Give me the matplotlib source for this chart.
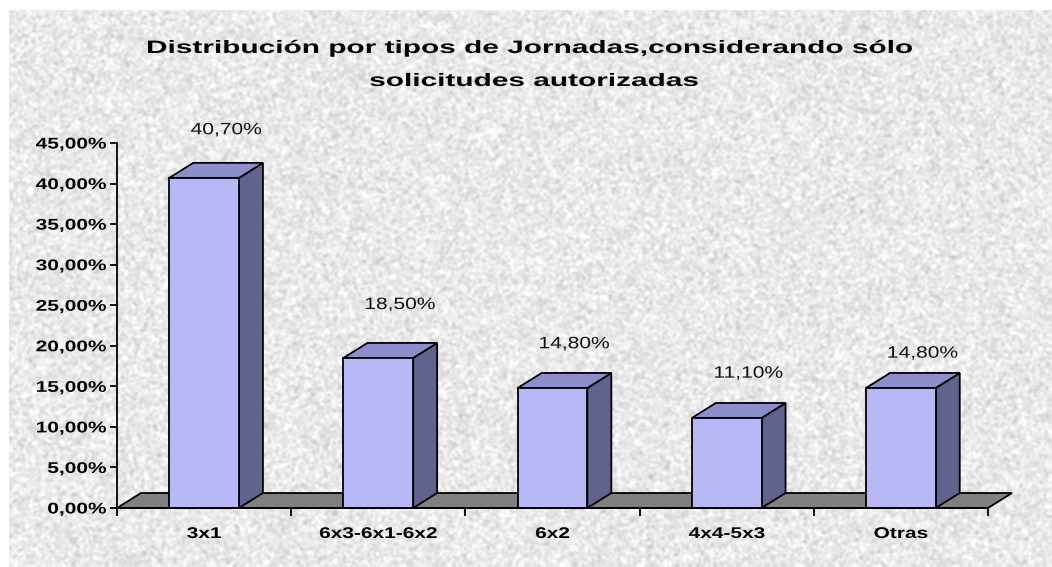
import numpy as np
import matplotlib
matplotlib.use("Agg")
import matplotlib.pyplot as plt
from matplotlib.patches import Polygon, Rectangle, PathPatch
from matplotlib.textpath import TextPath
from matplotlib.font_manager import FontProperties
from matplotlib.transforms import Affine2D, IdentityTransform

categories = ["3x1", "6x3-6x1-6x2", "6x2", "4x4-5x3", "Otras"]
values = [40.70, 18.50, 14.80, 11.10, 14.80]
value_labels = ["40,70%", "18,50%", "14,80%", "11,10%", "14,80%"]
yticks = [0, 5, 10, 15, 20, 25, 30, 35, 40, 45]
ytick_labels = ["0,00%", "5,00%", "10,00%", "15,00%", "20,00%", "25,00%",
                "30,00%", "35,00%", "40,00%", "45,00%"]
title_lines = ["Distribución por tipos de Jornadas,considerando sólo",
               "solicitudes autorizadas"]

# label placement (pixels above the front top edge of each bar)
label_rise_px = [43.6, 48.9, 39.7, 40.3, 30.3]

W, H = 1052, 567
fig = plt.figure(figsize=(W / 100, H / 100), dpi=100)
fig.patch.set_facecolor("white")

# textured background (decoration only)
rng = np.random.default_rng(3)
tex = rng.normal(0, 1, (H, W))
k = np.ones(3) / 3
for _ in range(2):
    tex = np.apply_along_axis(lambda r: np.convolve(r, k, mode="same"), 1, tex)
    tex = np.apply_along_axis(lambda c: np.convolve(c, k, mode="same"), 0, tex)
tex = tex / tex.std()
tex = np.clip(233 + 9 * tex, 195, 255) / 255.0
bg = fig.add_axes([9 / W, 0, 1 - 9 / W, 1 - 10 / H])
bg.imshow(tex, cmap="gray", vmin=0, vmax=1, aspect="auto", interpolation="bilinear")
bg.axis("off")

# plot axes (pixel frame of the reference)
x0, x1 = 117, 988
y0, y1 = 508, 143
ax = fig.add_axes([x0 / W, (H - y0) / H, (x1 - x0) / W, (y0 - y1) / H])
ax.patch.set_alpha(0)
ax.set_xlim(-0.5, 4.5)
ax.set_ylim(0, 45)
px_per_unit_y = (y0 - y1) / 45
px_per_cat = (x1 - x0) / 5

dx = 24 / px_per_cat
dy = 15 / px_per_unit_y
half = 0.2
lw = 1.3

front_c = "#b8b8f6"
top_c = "#8e8ecc"
side_c = "#62628f"
floor_c = "#808080"

floor = Polygon([(-0.5, 0), (4.5, 0), (4.5 + dx, dy), (-0.5 + dx, dy)],
                closed=True, facecolor=floor_c, edgecolor="black", lw=lw,
                clip_on=False, zorder=1)
ax.add_patch(floor)

for i, v in enumerate(values):
    l, r = i - half, i + half
    side = Polygon([(r, 0), (r + dx, dy), (r + dx, v + dy), (r, v)], closed=True,
                   facecolor=side_c, edgecolor="black", lw=lw, clip_on=False, zorder=3)
    top = Polygon([(l, v), (l + dx, v + dy), (r + dx, v + dy), (r, v)], closed=True,
                  facecolor=top_c, edgecolor="black", lw=lw, clip_on=False, zorder=3)
    front = Rectangle((l, 0), 2 * half, v, facecolor=front_c, edgecolor="black",
                      lw=lw, clip_on=False, zorder=4)
    ax.add_patch(side)
    ax.add_patch(top)
    ax.add_patch(front)

for s in ["top", "right"]:
    ax.spines[s].set_visible(False)
for s in ["left", "bottom"]:
    ax.spines[s].set_linewidth(1.3)
    ax.spines[s].set_zorder(6)

ax.set_yticks(yticks)
ax.set_yticklabels([])
ax.set_xticks(np.arange(-0.5, 5.0, 1.0))
ax.set_xticklabels([])
ax.tick_params(axis="x", which="major", direction="out", length=6, width=1.3)
ax.tick_params(axis="y", direction="out", length=5, width=1.3)

# --- horizontally stretched text (the reference text is widened) ---
bold = FontProperties(family="Liberation Sans", weight="bold")
regular = FontProperties(family="Liberation Sans")


def text_path(s, em, prop):
    return TextPath((0, 0), s, size=em, prop=prop)


def ink_width(s, em, prop):
    e = text_path(s, em, prop).get_extents()
    return e.x1 - e.x0


def stretched(s, x_px, base_px, em, sx, prop, ha="center", color="black"):
    tp = text_path(s, em, prop)
    e = tp.get_extents()
    if ha == "center":
        ox = -(e.x0 + e.x1) / 2 * sx
    elif ha == "right":
        ox = -e.x1 * sx
    else:
        ox = -e.x0 * sx
    tr = Affine2D().scale(sx, 1).translate(x_px + ox, H - base_px)
    p = PathPatch(tr.transform_path(tp), transform=IdentityTransform(),
                  facecolor=color, edgecolor="none", lw=0, zorder=10)
    fig.add_artist(p)


# title
em_t = 18.0
sx_t = 764 / ink_width(title_lines[0], em_t, bold)
stretched(title_lines[0], 530, 53, em_t, sx_t, bold)
stretched(title_lines[1], 534, 86, em_t, sx_t, bold)

# y tick labels
em_k = 15.5
sx_k = 70 / ink_width("45,00%", em_k, bold)
for t, lab in zip(yticks, ytick_labels):
    ypx = y0 - t * px_per_unit_y
    stretched(lab, 106, ypx + 5.5, em_k, sx_k, bold, ha="right")

# category labels
for i, c in enumerate(categories):
    xpx = x0 + (i + 0.5) * px_per_cat
    stretched(c, xpx, 538, em_k, sx_k, bold)

# value labels
em_v = 16.5
sx_v = 70 / ink_width("40,70%", em_v, regular)
for i, (v, lab) in enumerate(zip(values, value_labels)):
    xpx = x0 + (i + 0.5) * px_per_cat + 22
    top_px = y0 - v * px_per_unit_y
    stretched(lab, xpx, top_px - label_rise_px[i], em_v, sx_v, regular, color="#111111")

fig.savefig("out.png", dpi=100)
